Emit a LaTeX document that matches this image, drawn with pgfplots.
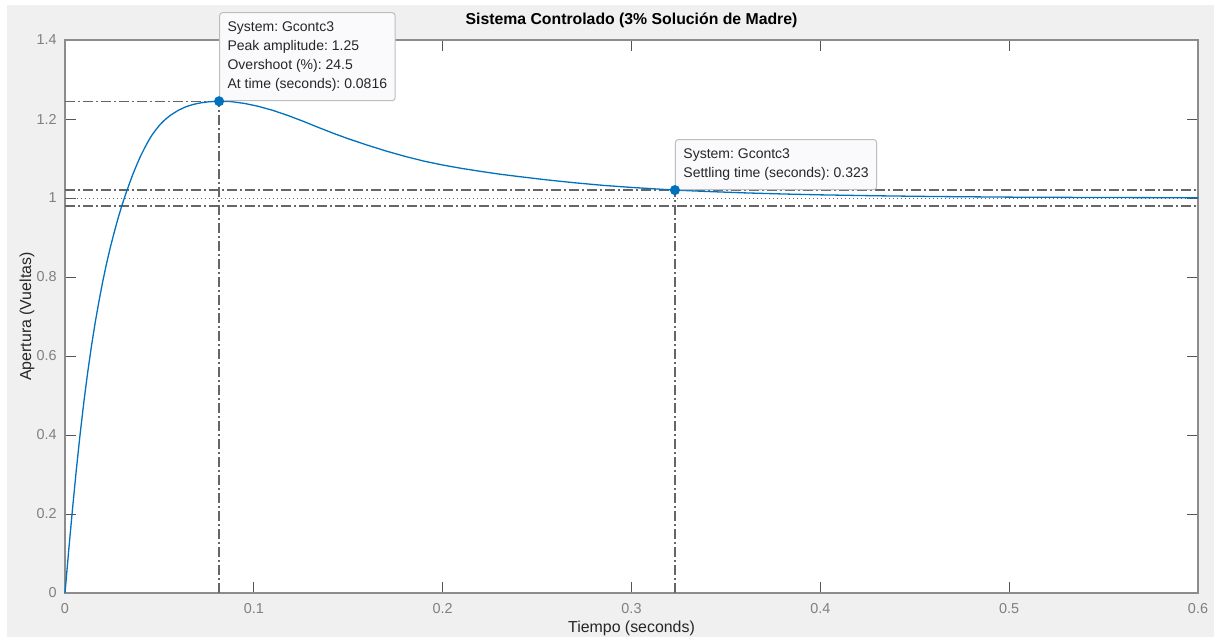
\documentclass[border=0pt]{standalone}
\usepackage{fontspec}
\setmainfont{Liberation Sans}
\usepackage{pgfplots}
\pgfplotsset{compat=1.18}
\frenchspacing
\definecolor{figbg}{HTML}{F0F0F0}
\definecolor{mblue}{HTML}{0072BD}
\definecolor{axcol}{HTML}{8C8C8C}
\definecolor{tickcol}{HTML}{555555}
\definecolor{ticklab}{HTML}{808080}
\definecolor{labcol}{HTML}{262626}
\definecolor{refcol}{HTML}{666666}
\definecolor{tipbg}{HTML}{FAFAFC}
\definecolor{tipedge}{HTML}{BDBDBD}

\pgfplotstableread{
t y
0 0
0.002 0.110
0.004 0.214
0.006 0.312
0.008 0.402
0.010 0.484
0.012 0.558
0.014 0.625
0.016 0.685
0.018 0.739
0.020 0.789
0.022 0.834
0.024 0.875
0.026 0.912
0.028 0.947
0.030 0.979
0.032 1.008
0.034 1.035
0.036 1.061
0.038 1.084
0.040 1.106
0.042 1.125
0.044 1.143
0.046 1.159
0.048 1.172
0.050 1.184
0.052 1.194
0.054 1.2025
0.056 1.210
0.058 1.216
0.060 1.222
0.064 1.231
0.068 1.237
0.072 1.241
0.076 1.2435
0.0816 1.245
0.088 1.2440
0.095 1.2395
0.102 1.2325
0.110 1.2220
0.118 1.2090
0.126 1.1945
0.134 1.1790
0.142 1.1640
0.150 1.1500
0.160 1.1340
0.170 1.1190
0.180 1.1055
0.190 1.0935
0.200 1.0835
0.210 1.0750
0.220 1.0675
0.230 1.0605
0.240 1.0545
0.255 1.0460
0.270 1.0385
0.285 1.0320
0.300 1.0268
0.323 1.0200
0.340 1.0165
0.360 1.0130
0.380 1.0102
0.400 1.0080
0.430 1.0056
0.460 1.0038
0.500 1.0022
0.550 1.0012
0.600 1.0006
}\resp

\begin{document}
\begin{tikzpicture}
\useasboundingbox (0,0) rectangle (607pt,319.5pt);
\fill[white] (0,0) rectangle (607pt,319.5pt);
\fill[figbg] (3.5pt,1pt) rectangle (607pt,317pt);
\begin{axis}[
  at={(32.5pt,23pt)}, anchor=south west,
  width=566.5pt, height=276.5pt, scale only axis,
  xmin=0, xmax=0.6, ymin=0, ymax=1.4,
  clip=false,
  axis background/.style={fill=white},
  axis line style={draw=axcol, line width=0.6pt},
  tick pos=both, tick align=inside,
  major tick length=5.5pt,
  every tick/.style={draw=tickcol, line width=0.5pt},
  xtick={0,0.1,0.2,0.3,0.4,0.5,0.6},
  xticklabels={0,0.1,0.2,0.3,0.4,0.5,0.6},
  ytick={0,0.2,0.4,0.6,0.8,1,1.2,1.4},
  yticklabels={0,0.2,0.4,0.6,0.8,1,1.2,1.4},
  tick label style={font=\fontsize{7.2}{8}\selectfont, text=ticklab},
  xticklabel style={anchor=center, yshift=-8pt},
  yticklabel style={anchor=east, inner sep=0pt, xshift=-4pt},
  xlabel={Tiempo (seconds)},
  ylabel={Apertura (Vueltas)},
  label style={font=\fontsize{7.95}{9}\selectfont, text=labcol},
  xlabel style={at={(axis description cs:0.5,-0.0633)}, anchor=center},
  ylabel style={at={(axis description cs:-0.0335,0.5)}, anchor=center},
]
% settling band and reference lines
\addplot[refcol, line width=0.7pt, dash pattern=on 5pt off 1.5pt on 1pt off 1.5pt] coordinates {(0,1.02) (0.6,1.02)};
\addplot[refcol, line width=0.7pt, dash pattern=on 5pt off 1.5pt on 1pt off 1.5pt] coordinates {(0,0.98) (0.6,0.98)};
\addplot[refcol, line width=0.5pt, dash pattern=on 0.5pt off 1.5pt] coordinates {(0,1) (0.6,1)};
\addplot[refcol, line width=0.7pt, dash pattern=on 5pt off 1.5pt on 1pt off 1.5pt] coordinates {(0,1.245) (0.0816,1.245)};
\addplot[refcol, line width=0.7pt, dash pattern=on 5pt off 1.5pt on 1pt off 1.5pt] coordinates {(0.0816,0) (0.0816,1.245)};
\addplot[refcol, line width=0.7pt, dash pattern=on 5pt off 1.5pt on 1pt off 1.5pt] coordinates {(0.323,0) (0.323,1.02)};
% response
\addplot[mblue, line width=0.65pt, line join=round] table[x=t, y=y] {\resp};
% title
\node[anchor=center, font=\fontsize{7.9}{9}\selectfont\bfseries, text=black]
  at (axis description cs:0.5,1.036) {Sistema Controlado (3\% Solución de Madre)};
% data tips
\node[draw=tipedge, fill=tipbg, line width=0.5pt, rounded corners=1.5pt, anchor=south west,
      inner xsep=4pt, inner ysep=4.6pt, align=left, text=labcol,
      font=\fontsize{7}{9.5}\selectfont] at (axis cs:0.0816,1.245)
  {System: Gcontc3\\Peak amplitude: 1.25\\Overshoot (\%): 24.5\\At time (seconds): 0.0816};
\node[draw=tipedge, fill=tipbg, line width=0.5pt, rounded corners=1.5pt, anchor=south west,
      inner xsep=4pt, inner ysep=4.6pt, align=left, text=labcol,
      font=\fontsize{7}{9.5}\selectfont] at (axis cs:0.323,1.02)
  {System: Gcontc3\\Settling time (seconds): 0.323};
\addplot[only marks, mark=*, mark size=2.3pt, mblue] coordinates {(0.0816,1.245) (0.323,1.02)};
\end{axis}
\end{tikzpicture}
\end{document}
